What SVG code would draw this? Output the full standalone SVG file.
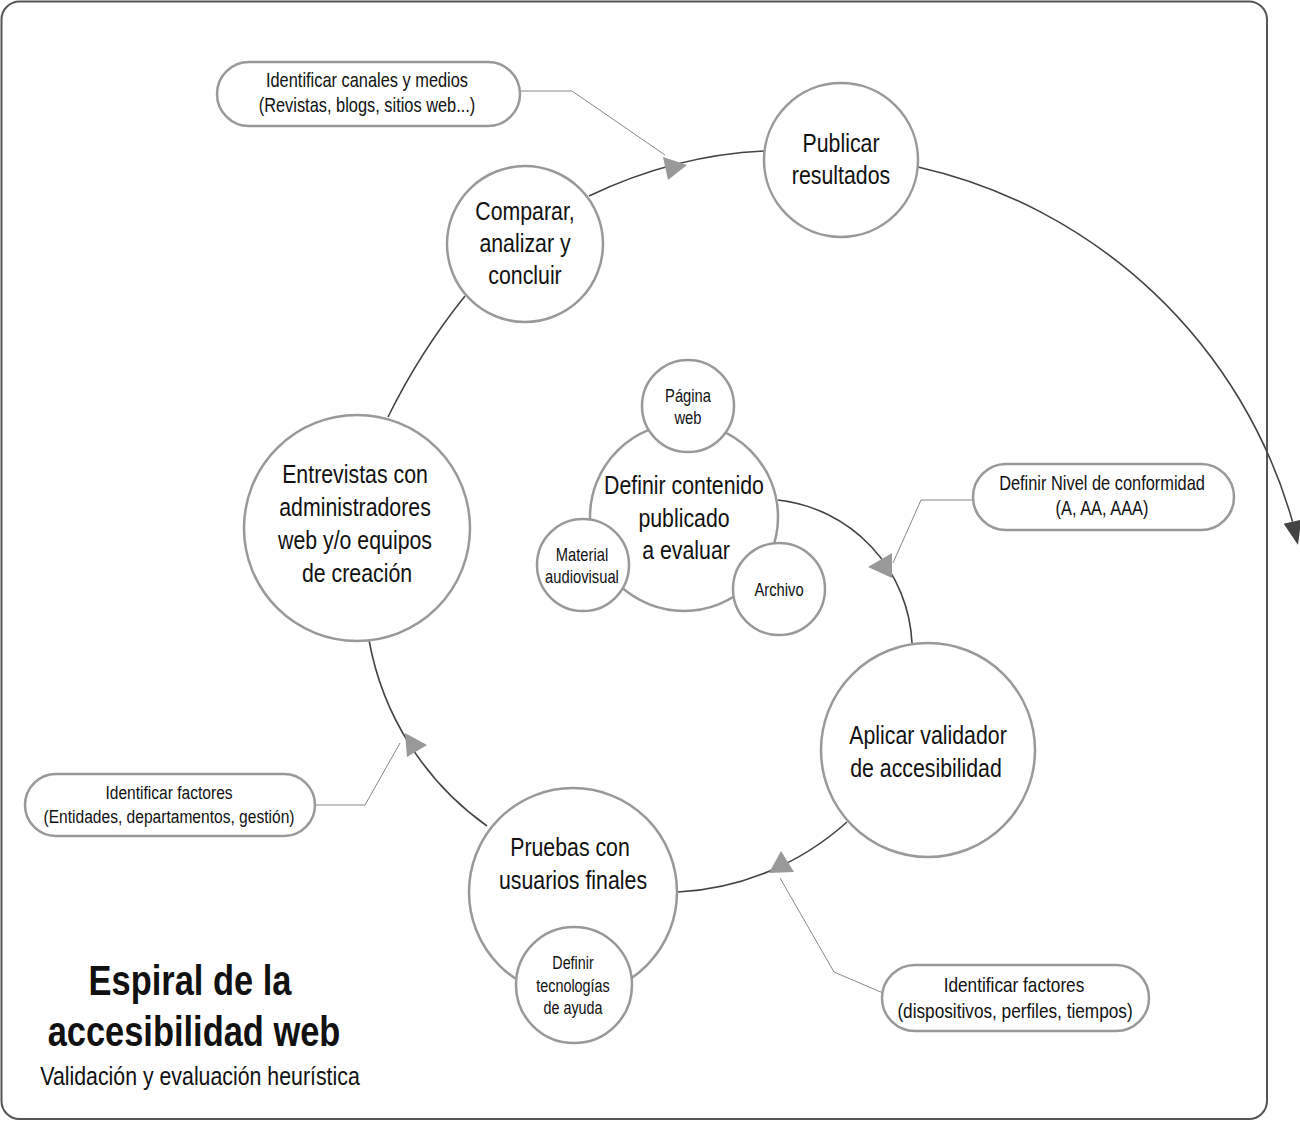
<svg xmlns="http://www.w3.org/2000/svg" width="1300" height="1121" viewBox="0 0 1300 1121">
<style>
text{font-family:"Liberation Sans",Arial,sans-serif;fill:#111;text-anchor:middle}
.n{fill:#fff;stroke:#999;stroke-width:2.5}
.c{fill:#fff;stroke:#999;stroke-width:2.5}
.l{fill:none;stroke:#444;stroke-width:1.6}
.cl{fill:none;stroke:#888;stroke-width:1}
.tri{fill:#999}
.t26{font-size:26px}
.t18{font-size:18px}
</style>
<rect x="1.5" y="1.5" width="1265.5" height="1117.5" rx="18" fill="#fff" stroke="#555" stroke-width="2"/>
<g id="connectors">
<path class="l" d="M778,500 A151,151 0 0 1 912,643"/>
<path class="l" d="M847,822 A274,274 0 0 1 678,892"/>
<path class="l" d="M487,826 A291,291 0 0 1 369,640"/>
<path class="l" d="M388,417 Q420,352 465,296"/>
<path class="l" d="M589,196 Q675,155 764,151"/>
<path class="l" d="M918,167 A505,505 0 0 1 1292.5,521.6"/>
<polygon points="1298,545 1283.7,523.7 1301.3,519.6" fill="#444"/>
<polyline class="cl" points="520,91 572,91 665,155"/>
<polyline class="cl" points="973,500 921,500 893,563"/>
<polyline class="cl" points="315,805 365,805 400,743"/>
<polyline class="cl" points="883,993 834,972 780,878"/>
<polygon class="tri" points="663,157 687,165 668,180"/>
<polygon class="tri" points="868,567 892,553 892,578"/>
<polygon class="tri" points="781,851 769,873 794,872"/>
<polygon class="tri" points="405,733 427,745 407,757"/>
</g>
<g id="publicar">
<circle class="n" cx="841" cy="160" r="77"/>
<text class="t26" transform="translate(841 152) scale(0.82 1)">Publicar</text>
<text class="t26" transform="translate(841 184) scale(0.82 1)">resultados</text>
</g>
<g id="comparar">
<circle class="n" cx="525" cy="244" r="78"/>
<text class="t26" transform="translate(525 220) scale(0.82 1)">Comparar,</text>
<text class="t26" transform="translate(525 252) scale(0.82 1)">analizar y</text>
<text class="t26" transform="translate(525 284) scale(0.82 1)">concluir</text>
</g>
<g id="entrevistas">
<circle class="n" cx="357" cy="528" r="113"/>
<text class="t26" transform="translate(355 483) scale(0.82 1)">Entrevistas con</text>
<text class="t26" transform="translate(355 516) scale(0.82 1)">administradores</text>
<text class="t26" transform="translate(355 549) scale(0.82 1)">web y/o equipos</text>
<text class="t26" transform="translate(357 582) scale(0.82 1)">de creación</text>
</g>
<g id="definir-contenido">
<circle class="n" cx="684" cy="517" r="94"/>
<text class="t26" transform="translate(684 494) scale(0.82 1)">Definir contenido</text>
<text class="t26" transform="translate(684 527) scale(0.82 1)">publicado</text>
<text class="t26" transform="translate(686 559) scale(0.82 1)">a evaluar</text>
</g>
<g id="pagina-web">
<circle class="n" cx="688" cy="406" r="46"/>
<text class="t18" transform="translate(688 402) scale(0.82 1)">Página</text>
<text class="t18" transform="translate(688 424) scale(0.82 1)">web</text>
</g>
<g id="material">
<circle class="n" cx="583" cy="565" r="46"/>
<text class="t18" transform="translate(582 561) scale(0.82 1)">Material</text>
<text class="t18" transform="translate(582 583) scale(0.82 1)">audiovisual</text>
</g>
<g id="archivo">
<circle class="n" cx="779" cy="589" r="46"/>
<text class="t18" transform="translate(779 596) scale(0.82 1)">Archivo</text>
</g>
<g id="aplicar">
<circle class="n" cx="928" cy="750" r="107"/>
<text class="t26" transform="translate(928 744) scale(0.82 1)">Aplicar validador</text>
<text class="t26" transform="translate(926 777) scale(0.82 1)">de accesibilidad</text>
</g>
<g id="pruebas">
<circle class="n" cx="573" cy="892" r="104"/>
<text class="t26" transform="translate(570 856) scale(0.82 1)">Pruebas con</text>
<text class="t26" transform="translate(573 889) scale(0.82 1)">usuarios finales</text>
</g>
<g id="tecnologias">
<circle class="n" cx="574" cy="985" r="58"/>
<text style="font-size:17.5px" transform="translate(573 969) scale(0.82 1)">Definir</text>
<text style="font-size:17.5px" transform="translate(573 992) scale(0.82 1)">tecnologías</text>
<text style="font-size:17.5px" transform="translate(573 1014) scale(0.82 1)">de ayuda</text>
</g>
<g id="callout-canales">
<rect class="c" x="217" y="62" width="303" height="64" rx="32"/>
<text style="font-size:20px" transform="translate(367 87) scale(0.82 1)">Identificar canales y medios</text>
<text style="font-size:20px" transform="translate(367 112) scale(0.82 1)">(Revistas, blogs, sitios web...)</text>
</g>
<g id="callout-nivel">
<rect class="c" x="973" y="464" width="261" height="66" rx="33"/>
<text style="font-size:20px" transform="translate(1102 490) scale(0.82 1)">Definir Nivel de conformidad</text>
<text style="font-size:20px" transform="translate(1102 515) scale(0.82 1)">(A, AA, AAA)</text>
</g>
<g id="callout-entidades">
<rect class="c" x="25" y="774" width="290" height="62" rx="31"/>
<text style="font-size:19px" transform="translate(169 799) scale(0.82 1)">Identificar factores</text>
<text style="font-size:19px" transform="translate(169 823) scale(0.82 1)">(Entidades, departamentos, gestión)</text>
</g>
<g id="callout-dispositivos">
<rect class="c" x="882" y="965" width="267" height="66" rx="33"/>
<text style="font-size:21px" transform="translate(1014 992) scale(0.82 1)">Identificar factores</text>
<text style="font-size:21px" transform="translate(1015 1018) scale(0.82 1)">(dispositivos, perfiles, tiempos)</text>
</g>
<g id="title">
<text style="font-size:42px;font-weight:bold" transform="translate(190 995) scale(0.82 1)">Espiral de la</text>
<text style="font-size:42px;font-weight:bold" transform="translate(194 1046) scale(0.82 1)">accesibilidad web</text>
<text style="font-size:26px" transform="translate(200 1085) scale(0.82 1)">Validación y evaluación heurística</text>
</g>
</svg>
